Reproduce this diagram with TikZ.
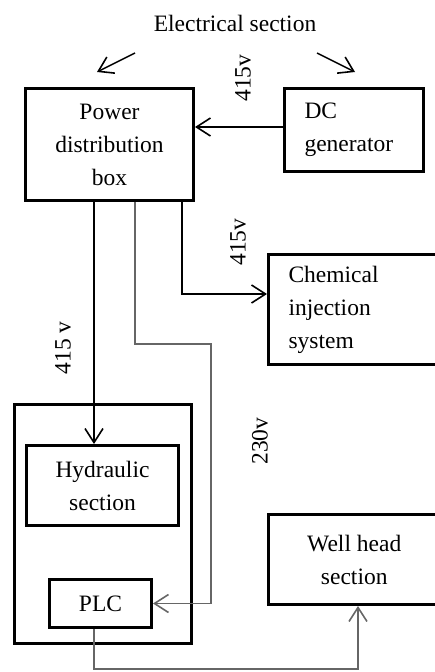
\documentclass[tikz,border=0pt]{standalone}
\usepackage{fontspec}
\setmainfont{Liberation Serif}
\usetikzlibrary{arrows.meta}
\begin{document}
\begin{tikzpicture}[x=1pt,y=-1pt,
  every node/.style={font=\fontsize{23.5}{33}\selectfont},
  box/.style={draw, line width=3pt, inner sep=0pt, align=center},
  lbox/.style={draw, line width=3pt, inner ysep=0pt, inner xsep=20pt, align=left},
  wire/.style={line width=1.4pt, black},
  gwire/.style={line width=1.4pt, black!60},
  arr/.style={-{Straight Barb[length=14pt,width=18pt,line width=1.6pt]}},
  vlabel/.style={rotate=90, inner sep=0pt}]
\useasboundingbox (0,0) rectangle (435,672);

% title
\node (title) at (235,23) {Electrical section};
\coordinate (tl1) at (135,53); \coordinate (tl2) at (97,72);
\coordinate (tr1) at (317,53); \coordinate (tr2) at (355,72);
\draw[wire,arr] (tl1) -- (tl2);
\draw[wire,arr] (tr1) -- (tr2);

% boxes
\node[box, minimum width=168pt, minimum height=112pt] (pdb) at (109.5,144.5) {Power\\distribution\\box};
\node[lbox, text width=99pt, minimum height=83pt] (dc) at (354,130) {DC\\generator};
\node[lbox, text width=131.5pt, minimum height=110pt] (chem) at (354.25,309.5) {Chemical\\injection\\system};
\node[box, minimum width=177pt, minimum height=239pt] (outer) at (103,524) {};
\node[box, minimum width=152pt, minimum height=80pt] (hyd) at (102.5,485.5) {Hydraulic\\section};
\node[box, minimum width=102pt, minimum height=48pt] (plc) at (100.5,603.5) {PLC};
\node[box, minimum width=171.5pt, minimum height=90pt] (well) at (354.25,559.5) {Well head\\section};

% labels
\node[vlabel] (l1) at (243,78) {415v};
\node[vlabel] (l2) at (238,242) {415v};
\node[vlabel] (l3) at (63,348) {415 v};
\node[vlabel] (l4) at (260,441) {230v};

% helper coordinates
\coordinate (x94) at (94,0);
\coordinate (x135) at (135,0);
\coordinate (x182) at (182,0);
\coordinate (x358) at (358,0);
\coordinate (y127) at (0,127);
\coordinate (y294) at (0,294);
\coordinate (c135) at (135,344);
\coordinate (c211) at (211,344);
\coordinate (b94) at (94,669);

% connectors
\draw[wire,arr] (dc.west |- y127) -- (pdb.east |- y127);
\draw[wire,arr] (pdb.south -| x94) -- (hyd.north -| x94);
\draw[gwire,arr] (pdb.south -| x135) -- (c135) -- (c211) |- (plc.east);
\draw[wire,arr] (pdb.south -| x182) |- (chem.west |- y294);
\draw[gwire,arr] (plc.south -| x94) -- (b94) -| (well.south -| x358);
\end{tikzpicture}
\end{document}
